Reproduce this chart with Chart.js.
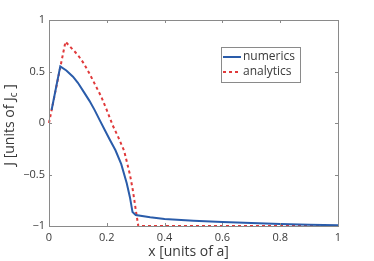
<!DOCTYPE html>
<html><head><meta charset="utf-8">
<script src="https://cdn.jsdelivr.net/npm/chart.js@4/dist/chart.umd.min.js"></script>
<style>html,body{margin:0;padding:0;background:#fff}#wrap{width:374px;height:261px}</style>
</head><body><div id="wrap"><canvas id="c" width="374" height="261"></canvas></div>
<script>
const numericsX = [0.009,0.039,0.06,0.083,0.10,0.123,0.14,0.158,0.175,0.193,0.21,0.23,0.25,0.269,0.28,0.289,0.30,0.35,0.40,0.50,0.60,0.70,0.80,0.90,1.00];
const numericsY = [0.126,0.55,0.51,0.45,0.39,0.29,0.215,0.125,0.03,-0.068,-0.16,-0.265,-0.40,-0.585,-0.72,-0.865,-0.893,-0.915,-0.932,-0.95,-0.962,-0.972,-0.98,-0.987,-0.993];
const analyticsX = [0.0,0.057,0.08,0.10,0.12,0.14,0.16,0.18,0.20,0.22,0.24,0.26,0.28,0.29,0.30,0.309,0.4,0.6,0.8,1.0];
const analyticsY = [0.0,0.789,0.72,0.66,0.58,0.48,0.37,0.26,0.125,-0.02,-0.14,-0.27,-0.50,-0.65,-0.84,-1.0,-1.0,-1.0,-1.0,-1.0];
const xTicks = [0,0.2,0.4,0.6,0.8,1];
const yTicks = [-1,-0.5,0,0.5,1];
const seriesNames = ['numerics','analytics'];
const xTitle = 'x [units of a]';
const yTitleMain = 'J [units of J';
const yTitleSub = 'c';
const yTitleEnd = ' ]';

const BLUE = '#2a5caa', RED = '#e0393a', FRAME = '#8a8a8a', TXT = '#3a3a3a';
const FONT = '"Open Sans", "DejaVu Sans", sans-serif';
const fmt = v => (v < 0 ? '\u2212' : '') + String(Math.abs(v));

const framePlugin = {
  id: 'frame',
  afterDatasetsDraw(chart) {
    const {ctx, chartArea: a, scales} = chart;
    ctx.save();
    ctx.strokeStyle = FRAME; ctx.lineWidth = 1;
    ctx.strokeRect(Math.round(a.left)+0.5, Math.round(a.top)+0.5, Math.round(a.right-a.left), Math.round(a.bottom-a.top));
    const tl = 3;
    xTicks.forEach(v => {
      const px = Math.round(scales.x.getPixelForValue(v)) + 0.5;
      ctx.beginPath();
      ctx.moveTo(px, a.bottom); ctx.lineTo(px, a.bottom - tl);
      ctx.moveTo(px, a.top); ctx.lineTo(px, a.top + tl);
      ctx.stroke();
    });
    yTicks.forEach(v => {
      const py = Math.round(scales.y.getPixelForValue(v)) + 0.5;
      ctx.beginPath();
      ctx.moveTo(a.left, py); ctx.lineTo(a.left + tl, py);
      ctx.moveTo(a.right, py); ctx.lineTo(a.right - tl, py);
      ctx.stroke();
    });
    // x title
    ctx.fillStyle = TXT;
    ctx.font = '14px ' + FONT;
    ctx.textAlign = 'center'; ctx.textBaseline = 'middle';
    ctx.fillText(xTitle, (a.left + a.right) / 2 - 5, 252);
    // y title with subscript
    ctx.translate(10, (a.top + a.bottom) / 2 + 2);
    ctx.rotate(-Math.PI / 2);
    ctx.font = '14px ' + FONT;
    const w1 = ctx.measureText(yTitleMain).width;
    ctx.font = '10px ' + FONT;
    const w2 = ctx.measureText(yTitleSub).width;
    ctx.font = '14px ' + FONT;
    const w3 = ctx.measureText(yTitleEnd).width;
    let x0 = -(w1 + w2 + w3) / 2;
    ctx.textBaseline = 'middle'; ctx.textAlign = 'left';
    ctx.fillText(yTitleMain, x0, 0);
    ctx.font = '10px ' + FONT;
    ctx.fillText(yTitleSub, x0 + w1, 4);
    ctx.font = '14px ' + FONT;
    ctx.fillText(yTitleEnd, x0 + w1 + w2, 0);
    ctx.restore();
    // legend
    ctx.save();
    const lx = 221, ly = 47, lw = 79, lh = 35;
    ctx.fillStyle = '#fff';
    ctx.fillRect(lx, ly, lw, lh);
    ctx.strokeStyle = FRAME; ctx.lineWidth = 1;
    ctx.strokeRect(lx + 0.5, ly + 0.5, lw, lh);
    const rows = [[BLUE, []], [RED, [3, 3]]];
    ctx.font = '12px ' + FONT; ctx.fillStyle = TXT; ctx.textBaseline = 'middle';
    rows.forEach((r, i) => {
      const y = ly + 10 + i * 15;
      ctx.strokeStyle = r[0]; ctx.lineWidth = 2; ctx.setLineDash(r[1]);
      ctx.beginPath(); ctx.moveTo(lx + 2, y); ctx.lineTo(lx + 20, y); ctx.stroke();
      ctx.setLineDash([]);
      ctx.fillText(seriesNames[i], lx + 22, y);
    });
    ctx.restore();
  }
};

new Chart(document.getElementById('c'), {
  type: 'line',
  data: {
    datasets: [
      { label: seriesNames[0], data: numericsX.map((x, i) => ({x, y: numericsY[i]})), borderColor: BLUE, borderWidth: 2, pointRadius: 0, tension: 0, clip: false, fill: false },
      { label: seriesNames[1], data: analyticsX.map((x, i) => ({x, y: analyticsY[i]})), borderColor: RED, borderWidth: 2, borderDash: [3, 3], pointRadius: 0, tension: 0, clip: false, fill: false }
    ]
  },
  options: {
    responsive: false, animation: false, devicePixelRatio: 1,
    layout: { padding: { left: 0, top: 20, right: 36, bottom: 0 } },
    plugins: { legend: { display: false }, tooltip: { enabled: false } },
    scales: {
      x: {
        type: 'linear', min: 0, max: 1,
        afterBuildTicks: s => { s.ticks = xTicks.map(v => ({value: v})); },
        afterFit: s => { s.height = 35; },
        grid: { display: false, drawTicks: false }, border: { display: false },
        ticks: { padding: 5, color: TXT, font: { family: FONT, size: 11 }, callback: v => fmt(v), maxRotation: 0 }
      },
      y: {
        min: -1, max: 1,
        afterBuildTicks: s => { s.ticks = yTicks.map(v => ({value: v})); },
        afterFit: s => { s.width = 49; },
        grid: { display: false, drawTicks: false }, border: { display: false },
        ticks: { padding: 4, color: TXT, font: { family: FONT, size: 11 }, callback: v => fmt(v) }
      }
    }
  },
  plugins: [framePlugin]
});
</script></body></html>
